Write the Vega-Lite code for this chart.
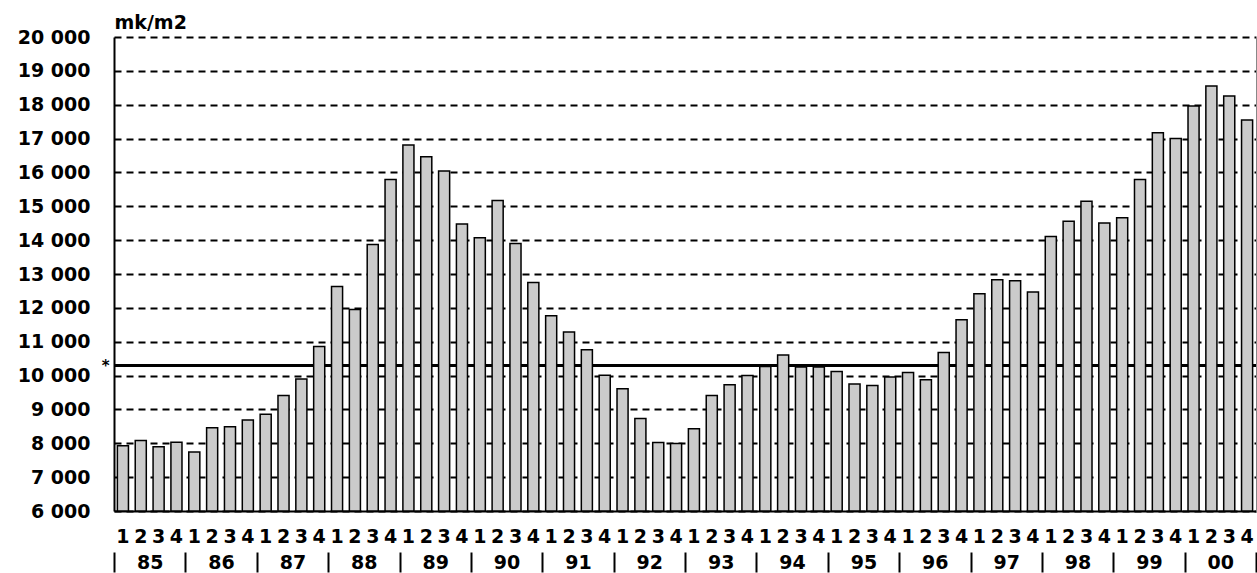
{
  "$schema": "https://vega.github.io/schema/vega-lite/v6.json",
  "width": 1142,
  "height": 474,
  "autosize": "none",
  "padding": {"left": 114, "top": 37, "right": 1, "bottom": 62},
  "background": "white",
  "config": {"view": {"stroke": null}, "font": "DejaVu Sans"},
  "data": {"values": [
    {"period":"85-1","year":"85","value":7930},{"period":"85-2","year":"85","value":8080},{"period":"85-3","year":"85","value":7900},{"period":"85-4","year":"85","value":8030},
    {"period":"86-1","year":"86","value":7740},{"period":"86-2","year":"86","value":8460},{"period":"86-3","year":"86","value":8490},{"period":"86-4","year":"86","value":8690},
    {"period":"87-1","year":"87","value":8860},{"period":"87-2","year":"87","value":9410},{"period":"87-3","year":"87","value":9900},{"period":"87-4","year":"87","value":10860},
    {"period":"88-1","year":"88","value":12630},{"period":"88-2","year":"88","value":11950},{"period":"88-3","year":"88","value":13870},{"period":"88-4","year":"88","value":15790},
    {"period":"89-1","year":"89","value":16810},{"period":"89-2","year":"89","value":16460},{"period":"89-3","year":"89","value":16040},{"period":"89-4","year":"89","value":14480},
    {"period":"90-1","year":"90","value":14070},{"period":"90-2","year":"90","value":15170},{"period":"90-3","year":"90","value":13900},{"period":"90-4","year":"90","value":12750},
    {"period":"91-1","year":"91","value":11770},{"period":"91-2","year":"91","value":11290},{"period":"91-3","year":"91","value":10760},{"period":"91-4","year":"91","value":10010},
    {"period":"92-1","year":"92","value":9610},{"period":"92-2","year":"92","value":8730},{"period":"92-3","year":"92","value":8020},{"period":"92-4","year":"92","value":7990},
    {"period":"93-1","year":"93","value":8430},{"period":"93-2","year":"93","value":9410},{"period":"93-3","year":"93","value":9730},{"period":"93-4","year":"93","value":10000},
    {"period":"94-1","year":"94","value":10270},{"period":"94-2","year":"94","value":10610},{"period":"94-3","year":"94","value":10250},{"period":"94-4","year":"94","value":10250},
    {"period":"95-1","year":"95","value":10120},{"period":"95-2","year":"95","value":9750},{"period":"95-3","year":"95","value":9710},{"period":"95-4","year":"95","value":9960},
    {"period":"96-1","year":"96","value":10090},{"period":"96-2","year":"96","value":9880},{"period":"96-3","year":"96","value":10680},{"period":"96-4","year":"96","value":11650},
    {"period":"97-1","year":"97","value":12420},{"period":"97-2","year":"97","value":12830},{"period":"97-3","year":"97","value":12800},{"period":"97-4","year":"97","value":12470},
    {"period":"98-1","year":"98","value":14110},{"period":"98-2","year":"98","value":14560},{"period":"98-3","year":"98","value":15150},{"period":"98-4","year":"98","value":14510},
    {"period":"99-1","year":"99","value":14660},{"period":"99-2","year":"99","value":15790},{"period":"99-3","year":"99","value":17170},{"period":"99-4","year":"99","value":17000},
    {"period":"00-1","year":"00","value":17960},{"period":"00-2","year":"00","value":18550},{"period":"00-3","year":"00","value":18260},{"period":"00-4","year":"00","value":17550}
  ]},
  "layer": [
    {
      "mark": {"type": "bar", "opacity": 0},
      "encoding": {
        "x": {"field": "year", "type": "nominal", "sort": null,
          "scale": {"paddingInner": 0, "paddingOuter": 0},
          "axis": {"orient": "bottom", "title": null, "domain": false, "offset": 41,
            "ticks": true, "tickBand": "extent", "tickSize": 20, "tickColor": "black", "tickWidth": 2,
            "labelPadding": -19, "labelAngle": 0, "labelFont": "DejaVu Sans", "labelFontWeight": "bold",
            "labelFontSize": 19, "labelColor": "black", "labelBaseline": "top", "grid": false}},
        "y": {"field": "value", "type": "quantitative", "scale": {"domain": [6000, 20000], "zero": false, "nice": false},
          "axis": {"orient": "left", "values": [6000,7000,8000,9000,10000,11000,12000,13000,14000,15000,16000,17000,18000,19000,20000],
            "labelExpr": "replace(format(datum.value, ','), ',', ' ')",
            "labelFont": "DejaVu Sans", "labelFontWeight": "bold", "labelFontSize": 19, "labelColor": "black",
            "labelPadding": 24, "ticks": false, "tickSize": 0,
            "domain": true, "domainColor": "black", "domainWidth": 2,
            "grid": true, "gridColor": "black", "gridWidth": 1.8, "gridDash": [7, 5], "gridOpacity": 1,
            "title": "mk/m2", "titleAngle": 0, "titleX": 0, "titleY": -9, "titleAlign": "left",
            "titleBaseline": "alphabetic", "titleFont": "DejaVu Sans", "titleFontWeight": "bold",
            "titleFontSize": 19, "titleColor": "black"}},
        "y2": {"datum": 6000}
      }
    },
    {
      "mark": {"type": "rule", "color": "black", "strokeWidth": 2},
      "encoding": {
        "y": {"datum": 10300, "type": "quantitative",
          "axis": {"orient": "left", "values": [10300], "labelExpr": "'*'", "domain": false, "ticks": false,
            "tickSize": 0, "grid": false, "labelPadding": 5, "labelFontSize": 15, "labelFontWeight": "bold",
            "labelColor": "black", "labelFont": "DejaVu Sans", "title": null}}
      }
    },
    {
      "mark": {"type": "bar", "fill": "#cbcbcb", "stroke": "black", "strokeWidth": 1.5},
      "encoding": {
        "x": {"field": "period", "type": "nominal", "sort": null,
          "scale": {"paddingInner": 0.38, "paddingOuter": 0.19},
          "axis": {"orient": "bottom", "title": null, "labelExpr": "slice(datum.value, 3)", "labelAngle": 0,
            "ticks": false, "tickSize": 0, "labelPadding": 16, "labelBaseline": "top",
            "domain": true, "domainColor": "black", "domainWidth": 2,
            "labelFont": "DejaVu Sans", "labelFontWeight": "bold", "labelFontSize": 19, "labelColor": "black",
            "grid": false}},
        "y": {"field": "value", "type": "quantitative"},
        "y2": {"datum": 6000}
      }
    }
  ],
  "resolve": {"scale": {"x": "independent"}, "axis": {"x": "independent", "y": "independent"}}
}
